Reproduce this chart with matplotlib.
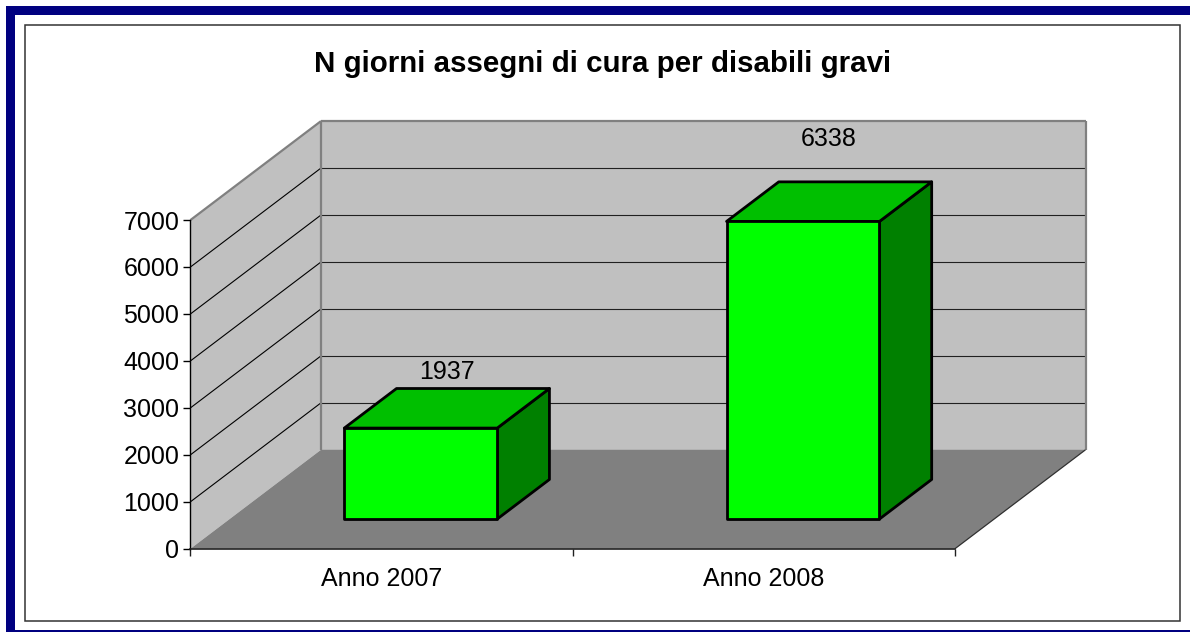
import matplotlib
matplotlib.use("Agg")
import matplotlib.pyplot as plt
from matplotlib.patches import Rectangle

plt.rcParams['font.family'] = ['Liberation Sans', 'DejaVu Sans']

title = "N giorni assegni di cura per disabili gravi"
categories = ["Anno 2007", "Anno 2008"]
values = [1937, 6338]
y_ticks = [0, 1000, 2000, 3000, 4000, 5000, 6000, 7000]
y_max = 7000

W, H = 1190, 632

# depth of the fake 3d box, in data units
depth_x = 130.5 / 382.25
depth_y = 99 / 47 * 1000
wall_top = 7000

bar_width = 0.4
bar_front = 0.3
bar_back = 0.7
# how far above the bar top each label sits (data units)
label_gap = [776, 1330]


def proj(x, v, d):
    return x + d * depth_x, v + d * depth_y


def poly(ax, pts, **kw):
    xs, ys = zip(*pts)
    ax.fill(xs, ys, clip_on=False, **kw)


def line(ax, a, b, **kw):
    ax.plot([a[0], b[0]], [a[1], b[1]], clip_on=False, solid_capstyle='butt', **kw)


fig = plt.figure(figsize=(W / 100, H / 100), dpi=100, facecolor='white')

# blue border and thin inner frame
blue = '#000080'
for x0, y0, x1, y1 in [(6, 6, W, 15), (6, 6, 15, H), (6, 630, W, H)]:
    fig.patches.append(Rectangle((x0 / W, 1 - y1 / H), (x1 - x0) / W, (y1 - y0) / H,
                                 transform=fig.transFigure, fc=blue, ec='none', zorder=-2))
fig.patches.append(Rectangle((24.5 / W, 1 - 620.5 / H), 1155.5 / W, 596 / H,
                             transform=fig.transFigure, fc='white', ec='#333333', lw=1.1, zorder=-1))

ax = fig.add_axes([190.5 / W, 1 - 548.7 / H, 764.5 / W, 328.7 / H])
ax.set_xlim(0, len(categories))
ax.set_ylim(0, y_max)
ax.patch.set_visible(False)
n = len(categories)

# walls and floor
poly(ax, [proj(0, 0, 0), proj(0, 0, 1), proj(0, wall_top, 1), proj(0, wall_top, 0)],
     fc='#c0c0c0', ec='none', zorder=1)
poly(ax, [proj(0, 0, 1), proj(n, 0, 1), proj(n, wall_top, 1), proj(0, wall_top, 1)],
     fc='#c0c0c0', ec='none', zorder=1)
poly(ax, [proj(0, 0, 0), proj(n, 0, 0), proj(n, 0, 1), proj(0, 0, 1)],
     fc='#808080', ec='none', zorder=1.5)

for t in y_ticks[1:-1]:
    line(ax, proj(0, t, 0), proj(0, t, 1), color='black', lw=0.8, zorder=2)
    line(ax, proj(0, t, 1), proj(n, t, 1), color='#202020', lw=0.8, zorder=2)

grey = dict(color='#808080', lw=1.6, zorder=2.5)
line(ax, proj(0, wall_top, 0), proj(0, wall_top, 1), **grey)
line(ax, proj(0, wall_top, 1), proj(n, wall_top, 1), **grey)
line(ax, proj(0, 0, 1), proj(0, wall_top, 1), **grey)
line(ax, proj(n, 0, 1), proj(n, wall_top, 1), **grey)
line(ax, proj(n, 0, 0), proj(n, 0, 1), color='#303030', lw=0.9, zorder=2.5)

# bars
edge = dict(ec='black', lw=2, joinstyle='round', zorder=4)
for i, v in enumerate(values):
    x0 = i + 0.5 - bar_width / 2
    x1 = i + 0.5 + bar_width / 2
    a = proj(x0, 0, bar_front)
    b = proj(x1, 0, bar_front)
    c = proj(x1, v, bar_front)
    d = proj(x0, v, bar_front)
    e = proj(x1, 0, bar_back)
    f = proj(x1, v, bar_back)
    g = proj(x0, v, bar_back)
    poly(ax, [b, e, f, c], fc='#008000', **edge)
    poly(ax, [d, c, f, g], fc='#00bf00', **edge)
    poly(ax, [a, b, c, d], fc='#00ff00', **edge)
    lx, ly = proj(i + 0.5, v, 0.5)
    ax.text(lx, ly + label_gap[i], str(v), ha='center', va='center',
            fontsize=18, color='black', zorder=5)

ax.set_yticks(y_ticks)
ax.set_xticks(range(n + 1))
ax.set_xticklabels([])
ax.tick_params(axis='y', length=5, width=1, labelsize=18, pad=3, color='black')
ax.tick_params(axis='x', length=5, width=1, color='#202020')
for i, c in enumerate(categories):
    ax.annotate(c, (i + 0.5, 0), xytext=(0, -30), xycoords='data', textcoords='offset pixels',
                ha='center', va='center', fontsize=18, annotation_clip=False)
for s in ['top', 'right']:
    ax.spines[s].set_visible(False)
ax.spines['left'].set_linewidth(1)
ax.spines['bottom'].set_linewidth(1.2)
ax.spines['bottom'].set_color('#202020')
for s in ax.spines.values():
    s.set_zorder(3)

fig.text(603 / W, 1 - 64 / H, title, ha='center', va='center', fontsize=21.25, fontweight='bold')

fig.savefig('out.png', dpi=100)
